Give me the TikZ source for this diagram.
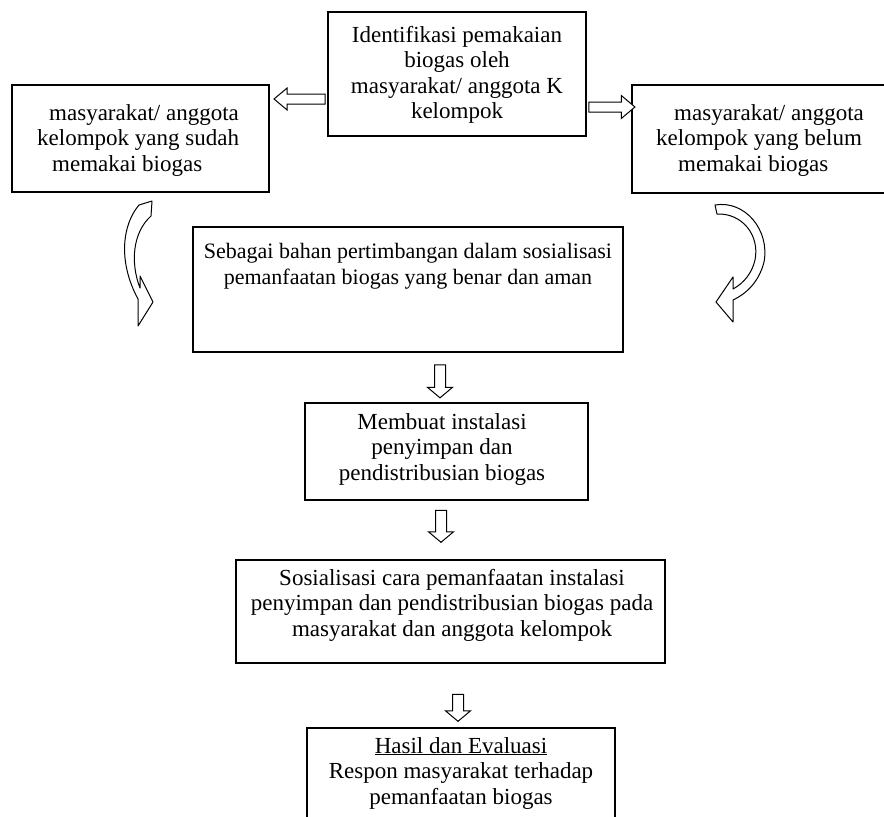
\documentclass[tikz,border=0pt]{standalone}
\usepackage{fontspec}
\setmainfont{Liberation Serif}
\usetikzlibrary{shapes.arrows}
\begin{document}
\begin{tikzpicture}[x=1pt,y=-1pt,
  box/.style={draw, line width=1.2pt, inner sep=0pt},
  txt/.style={align=center, font=\fontsize{23}{25.5}\selectfont, inner sep=0pt},
  ltxt/.style={align=left, font=\fontsize{23}{25.5}\selectfont, inner sep=0pt},
  harrow/.style={single arrow, draw, line width=1pt, inner xsep=0pt, fill=white},
  curv/.style={draw, line width=1pt, fill=white, line join=round}]
\useasboundingbox (0,0) rectangle (884,817);

% boxes
\node[box, minimum width=258, minimum height=124] (top) at (457,74) {};
\node[txt] (topt) at (457,75) {Identifikasi pemakaian\\biogas oleh\\masyarakat/ anggota K\\kelompok};

\node[box, minimum width=257, minimum height=107] (left) at (140.5,138.5) {};
\node[ltxt, anchor=west] (leftt) at (37,140) {\hspace{12pt}masyarakat/ anggota\\kelompok yang sudah\\\hspace{15pt}memakai biogas};

\node[box, minimum width=280, minimum height=108] (right) at (772,139) {};
\node[ltxt, anchor=west] (rightt) at (656,140) {\hspace{18pt}masyarakat/ anggota\\kelompok yang belum\\\hspace{22pt}memakai biogas};

\node[box, minimum width=430, minimum height=125] (mid) at (408,289.5) {};
\node[txt, font=\fontsize{22}{25.5}\selectfont] (midt) at (408,266) {Sebagai bahan pertimbangan dalam sosialisasi\\pemanfaatan biogas yang benar dan aman};

\node[box, minimum width=283, minimum height=97] (inst) at (446.5,451.5) {};
\node[txt] (instt) at (442,449) {Membuat instalasi\\penyimpan dan\\pendistribusian biogas};

\node[box, minimum width=429, minimum height=103] (sos) at (450.5,611.5) {};
\node[txt] (sost) at (452,605) {Sosialisasi cara pemanfaatan instalasi\\penyimpan dan pendistribusian biogas pada\\masyarakat dan anggota kelompok};

\node[box, minimum width=308, minimum height=120] (hasil) at (461,788) {};
\node[txt] (hasilt) at (461,773) {\underline{Hasil dan Evaluasi}\\Respon masyarakat terhadap\\pemanfaatan biogas};

% hollow straight arrows
\node[harrow, minimum height=51, inner ysep=4.5pt, single arrow head extend=6pt, single arrow tip angle=80, rotate=180] (la) at (302.5,99) {};
\node[harrow, minimum height=46, inner ysep=4.5pt, single arrow head extend=6.5pt, single arrow tip angle=80] (ra) at (609,107) {};
\node[harrow, minimum height=33, inner ysep=5pt, single arrow head extend=7pt, single arrow tip angle=100, rotate=-90] (d1) at (440,379) {};
\node[harrow, minimum height=32, inner ysep=5pt, single arrow head extend=7pt, single arrow tip angle=100, rotate=-90] (d2) at (441,524) {};
\node[harrow, minimum height=27, inner ysep=5pt, single arrow head extend=7pt, single arrow tip angle=100, rotate=-90] (d3) at (458,705.5) {};

% curved hollow arrows
\draw[curv] (139,205) .. controls (122,225) and (118,262) .. (138,299)
  -- (138,326) -- (153,302) -- (140,276) -- (140,288)
  .. controls (130,262) and (133,232) .. (151,216) -- (152,201) -- cycle;
\draw[curv] (715,205) .. controls (745,200) and (770,230) .. (764,262)
  .. controls (759,282) and (746,294) .. (733,300)
  -- (733,322) -- (716,302) -- (733,277) -- (733,289)
  .. controls (744,283) and (752,273) .. (755,260)
  .. controls (760,235) and (742,213) .. (717,214) -- cycle;
\end{tikzpicture}
\end{document}
